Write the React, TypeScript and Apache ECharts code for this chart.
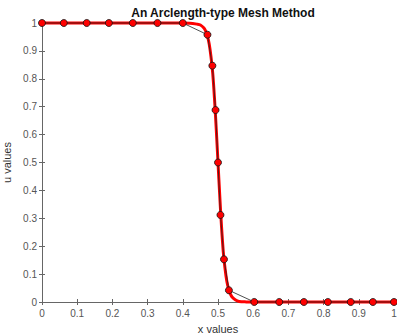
import React, { useEffect, useRef } from "react";
import * as echarts from "echarts";

// Mesh points (x) and computed values (u)
const meshX = [0, 0.062, 0.127, 0.19, 0.258, 0.328, 0.4, 0.47, 0.484, 0.493, 0.5, 0.507, 0.517, 0.531, 0.603, 0.674, 0.744, 0.812, 0.877, 0.94, 1.0];
const meshU = [1, 1, 1, 1, 1, 1, 0.9999, 0.958, 0.847, 0.688, 0.5, 0.312, 0.153, 0.042, 0.0001, 0, 0, 0, 0, 0, 0];

// Reference (red) curve
const curveX = [0, 0.4, 0.42, 0.44, 0.45, 0.46, 0.465, 0.47, 0.475, 0.48, 0.485, 0.49, 0.495, 0.5, 0.505, 0.51, 0.515, 0.52, 0.525, 0.53, 0.535, 0.54, 0.55, 0.56, 0.58, 0.6, 1.0];
const curveU = [1, 1, 0.9995, 0.996, 0.993, 0.982, 0.971, 0.953, 0.925, 0.88, 0.82, 0.73, 0.62, 0.5, 0.38, 0.27, 0.18, 0.12, 0.075, 0.047, 0.029, 0.018, 0.007, 0.002, 0.0003, 0, 0];

const xTicks = [0, 0.1, 0.2, 0.3, 0.4, 0.5, 0.6, 0.7, 0.8, 0.9, 1];
const yTicks = [0, 0.1, 0.2, 0.3, 0.4, 0.5, 0.6, 0.7, 0.8, 0.9, 1];

const titleText = "An Arclength-type Mesh Method";
const xName = "x values";
const yName = "u values";

const fmt = (v: number) => String(parseFloat(v.toFixed(2)));

export default function App() {
  const ref = useRef<HTMLDivElement>(null);
  useEffect(() => {
    document.body.style.margin = "0";
    if (!ref.current) return;
    const chart = echarts.init(ref.current, undefined, { renderer: "svg" });
    const axisColor = "#666";
    const labelColor = "#555";
    const font = "Liberation Sans, Arial, Helvetica, sans-serif";
    chart.setOption({
      animation: false,
      backgroundColor: "#fff",
      title: {
        text: titleText,
        left: 218,
        textAlign: "center",
        top: 2,
        textStyle: { fontSize: 12, fontWeight: "bold", color: "#111", fontFamily: font },
      },
      grid: { left: 42, top: 23, width: 352, height: 279, show: false, containLabel: false, outerBoundsMode: "none" },
      xAxis: [
        {
          type: "value",
          min: 0,
          max: 1,
          interval: 0.1,
          position: "bottom",
          name: xName,
          nameLocation: "middle",
          nameGap: 21,
          nameTextStyle: { fontSize: 11, color: "#333", fontFamily: font },
          axisLine: { show: true, lineStyle: { color: axisColor, width: 1 } },
          axisTick: { show: true, inside: true, length: 3, lineStyle: { color: axisColor } },
          axisLabel: { fontSize: 10, color: labelColor, fontFamily: font, margin: 6, formatter: (v: number) => fmt(v) },
          splitLine: { show: false },
        },
        {
          type: "value",
          min: 0,
          max: 1,
          interval: 0.1,
          position: "top",
          axisLine: { show: true, lineStyle: { color: axisColor, width: 1 } },
          axisTick: { show: true, inside: true, length: 3, lineStyle: { color: axisColor } },
          axisLabel: { show: false },
          splitLine: { show: false },
        },
      ],
      yAxis: [
        {
          type: "value",
          min: 0,
          max: 1,
          interval: 0.1,
          position: "left",
          name: yName,
          nameLocation: "middle",
          nameGap: 20,
          nameRotate: 90,
          nameTextStyle: { fontSize: 11, color: "#333", fontFamily: font },
          axisLine: { show: true, lineStyle: { color: axisColor, width: 1 } },
          axisTick: { show: true, inside: true, length: 3, lineStyle: { color: axisColor } },
          axisLabel: { fontSize: 10, color: labelColor, fontFamily: font, margin: 5, formatter: (v: number) => fmt(v) },
          splitLine: { show: false },
        },
        {
          type: "value",
          min: 0,
          max: 1,
          interval: 0.1,
          position: "right",
          axisLine: { show: true, lineStyle: { color: axisColor, width: 1 } },
          axisTick: { show: true, inside: true, length: 3, lineStyle: { color: axisColor } },
          axisLabel: { show: false },
          splitLine: { show: false },
        },
      ],
      series: [
        {
          type: "line",
          xAxisIndex: 0,
          yAxisIndex: 0,
          data: curveX.map((x, i) => [x, curveU[i]]),
          showSymbol: false,
          symbol: "none",
          smooth: 0.3,
          clip: false,
          lineStyle: { color: "#ff0000", width: 3 },
          z: 2,
        },
        {
          type: "line",
          xAxisIndex: 0,
          yAxisIndex: 0,
          data: meshX.map((x, i) => [x, meshU[i]]),
          symbol: "circle",
          symbolSize: 7,
          clip: false,
          lineStyle: { color: "#222", width: 0.8 },
          itemStyle: { color: "#ff0000", borderColor: "#111", borderWidth: 0.8 },
          z: 3,
        },
      ],
    });
    return () => chart.dispose();
  }, []);
  return <div ref={ref} style={{ width: 397, height: 335 }} />;
}
